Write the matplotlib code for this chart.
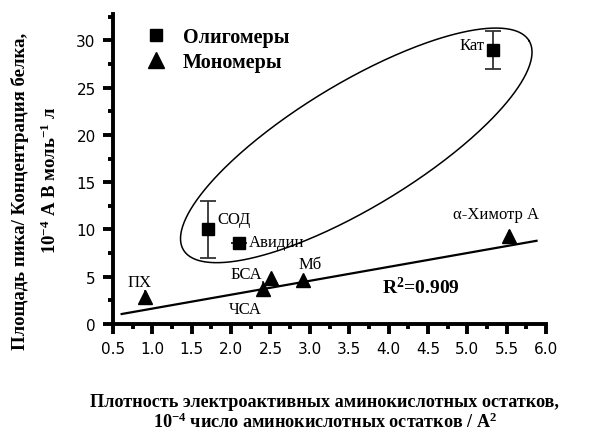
import numpy as np
import matplotlib
matplotlib.use("Agg")
import matplotlib.pyplot as plt
from matplotlib.lines import Line2D
from matplotlib.ticker import MultipleLocator

plt.rcParams['mathtext.default'] = 'regular'

# Oligomers
olig_names = ["Кат", "СОД", "Авидин"]
olig_x = [5.33, 1.71, 2.10]
olig_y = [29.0, 10.0, 8.6]
olig_err = [2.0, 3.0, 0.0]

# Monomers
mono_names = ["ПХ", "ЧСА", "БСА", "Мб", "α-Химотр А"]
mono_x = [0.91, 2.41, 2.51, 2.91, 5.53]
mono_y = [2.85, 3.75, 4.9, 4.7, 9.35]
mono_err = [0.7, 0.8, 0.3, 0.5, 0.6]

# linear fit for monomers
fit_slope = 1.47
fit_intercept = 0.16
fit_x_range = [0.61, 5.88]
r2_text = "R$^2$=0.909"

xticks = [0.5, 1.0, 1.5, 2.0, 2.5, 3.0, 3.5, 4.0, 4.5, 5.0, 5.5, 6.0]
yticks = [0, 5, 10, 15, 20, 25, 30]

W, H = 590, 435
fig = plt.figure(figsize=(W/100, H/100), dpi=100)
ax = fig.add_axes([113/W, 1-325/H, (546-113)/W, (325-15)/H])

ax.set_xlim(0.5, 6.0)
ax.set_ylim(0, 32.8)

serif = "Liberation Serif"
sans = "DejaVu Sans"

# fit line
fx = np.array(fit_x_range)
ax.plot(fx, fit_slope*fx + fit_intercept, color='black', lw=1.6, zorder=2)

# error bars + markers
ax.errorbar(olig_x, olig_y, yerr=olig_err, fmt='s', color='black', ms=8.5,
            ecolor='#333333', elinewidth=1.3, capsize=6, capthick=1.3, zorder=3)
ax.errorbar(mono_x, mono_y, yerr=mono_err, fmt='^', color='black', ms=10,
            ecolor='#333333', elinewidth=1.3, capsize=0, zorder=3)

# ellipse enclosing oligomers (drawn in pixel-equivalent space then mapped)
px_per_x = (546-113)/5.5
px_per_y = 310/32.8
cx, cy = 3.59, 18.9
a, b, th = 202.0, 62.0, np.deg2rad(31.2)
t = np.linspace(0, 2*np.pi, 400)
dx = a*np.cos(th)*np.cos(t) - b*np.sin(th)*np.sin(t)
dy = a*np.sin(th)*np.cos(t) + b*np.cos(th)*np.sin(t)
ax.plot(cx + dx/px_per_x, cy + dy/px_per_y, color='black', lw=1.1, zorder=2)

# point labels
lab_fs = 12
ax.text(5.22, 29.5, "Кат", ha='right', va='center', fontsize=lab_fs, family=serif)
ax.text(1.83, 11.1, "СОД", ha='left', va='center', fontsize=lab_fs, family=serif)
ax.text(2.22, 8.7, "Авидин", ha='left', va='center', fontsize=lab_fs, family=serif)
ax.text(0.84, 4.4, "ПХ", ha='center', va='center', fontsize=lab_fs, family=serif)
ax.text(2.19, 5.3, "БСА", ha='center', va='center', fontsize=lab_fs, family=serif)
ax.text(2.18, 1.6, "ЧСА", ha='center', va='center', fontsize=lab_fs, family=serif)
ax.text(3.01, 6.4, "Мб", ha='center', va='center', fontsize=lab_fs, family=serif)
ax.text(5.37, 11.6, "α-Химотр А", ha='center', va='center', fontsize=lab_fs, family=serif)
ax.text(4.41, 4.0, r2_text, ha='center', va='center', fontsize=14,
        family=serif, fontweight='bold')

# legend
handles = [Line2D([], [], marker='s', color='black', ls='none', ms=9),
           Line2D([], [], marker='^', color='black', ls='none', ms=11)]
leg = ax.legend(handles, ["Олигомеры", "Мономеры"], loc='upper left',
                bbox_to_anchor=(0.01, 1.015), frameon=False, handletextpad=0.35,
                labelspacing=0.22, prop={'family': serif, 'weight': 'bold', 'size': 14.5})

# axes styling
for s in ['top', 'right']:
    ax.spines[s].set_visible(False)
for s in ['left', 'bottom']:
    ax.spines[s].set_linewidth(2.8)
ax.set_xticks(xticks)
ax.set_yticks(yticks)
ax.xaxis.set_minor_locator(MultipleLocator(0.25))
ax.yaxis.set_minor_locator(MultipleLocator(2.5))
ax.tick_params(which='major', direction='out', length=7.5, width=2.8, labelsize=11, pad=5)
ax.tick_params(which='minor', direction='out', length=3.8, width=2.8)
ax.set_xticklabels([f"{v:.1f}" for v in xticks], family=sans)
ax.set_yticklabels([str(v) for v in yticks], family=sans)

# axis labels
fig.text(20/W, 1-191/H, "Площадь пика/ Концентрация белка,", rotation=90,
         ha='center', va='center', family=serif, fontweight='bold', fontsize=13.5)
fig.text(50/W, 1-180/H, "10$^{-4}$ А В моль$^{-1}$ л", rotation=90,
         ha='center', va='center', family=serif, fontweight='bold', fontsize=13.5)
fig.text(325/W, 1-403/H, "Плотность электроактивных аминокислотных остатков,",
         ha='center', va='center', family=serif, fontweight='bold', fontsize=13.1)
fig.text(325/W, 1-422/H, "10$^{-4}$ число аминокислотных остатков / А$^{2}$",
         ha='center', va='center', family=serif, fontweight='bold', fontsize=13.1)

fig.savefig("out.png", dpi=100)
